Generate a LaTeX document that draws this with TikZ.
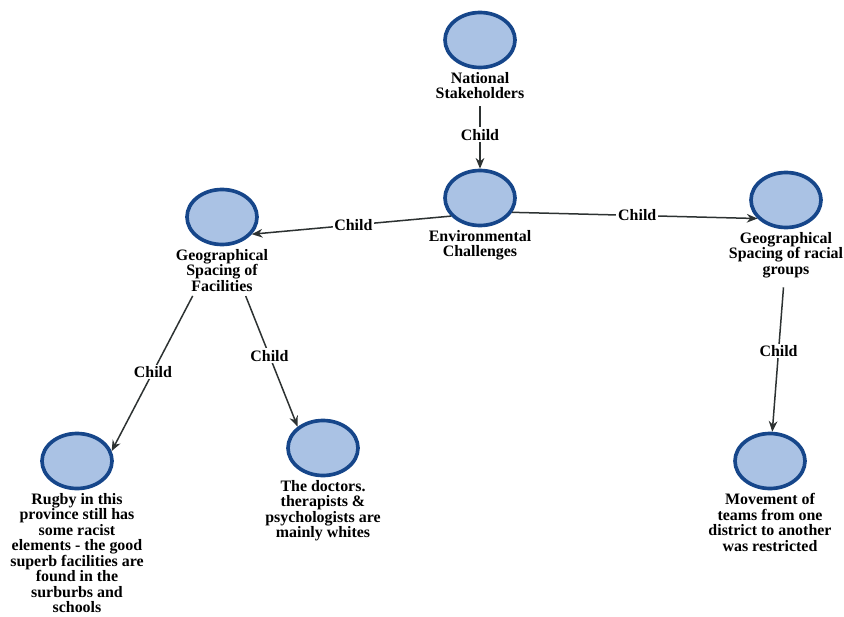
\documentclass[tikz,border=0pt]{standalone}
\usepackage{fontspec}
\setmainfont{Liberation Serif}
\usetikzlibrary{arrows.meta,positioning,shapes.geometric}
\definecolor{bubblefill}{RGB}{170,194,228}
\definecolor{bubbleline}{RGB}{22,70,138}
\definecolor{linkgray}{RGB}{45,50,50}
\tikzset{
  bubble/.style={ellipse,draw=bubbleline,line width=1.1mm,fill=bubblefill,minimum width=21mm,minimum height=16.5mm,inner sep=0pt},
  caption/.style={align=center,inner sep=1pt,font=\fontsize{13.6}{13.2}\selectfont\bfseries},
  link/.style={-{Stealth[length=3.2mm,width=2.6mm]},draw=linkgray,line width=0.45mm},
  tag/.style={fill=white,inner sep=1.5pt,font=\fontsize{13.6}{13.2}\selectfont\bfseries}
}

\begin{document}
\begin{tikzpicture}[x=0.3mm,y=-0.3mm]
\useasboundingbox (0,0) rectangle (844,617);
\foreach \nm/\x/\y/\lab in {nat/480/40/{National\\Stakeholders},env/480/198/{Environmental\\Challenges},fac/222/217/{Geographical\\Spacing of\\Facilities},racial/786/200/{Geographical\\Spacing of racial\\groups},rugby/77/461/{Rugby in this\\province still has\\some racist\\elements - the good\\superb facilities are\\found in the\\surburbs and\\schools},doctors/323/448/{The doctors.\\therapists \&\\psychologists are\\mainly whites},move/770/461/{Movement of\\teams from one\\district to another\\was restricted}} {
  \node[bubble] (\nm) at (\x,\y) {};
  \node[caption,below=0.5mm of \nm] (\nm-lab) {\lab};
}
\draw[link,shorten <=1.8mm] (nat-lab) -- node[tag,pos=0.5] {Child} (env);
\draw[link] (env.212) -- node[tag,pos=0.49] {Child} (fac.-30);
\draw[link] (env.-24) -- node[tag,pos=0.51] {Child} (racial.213);
\draw[link,shorten <=1mm] (fac-lab.-141) -- node[tag,pos=0.5] {Child} (rugby.16);
\draw[link,shorten <=1mm] (fac-lab.-45) -- node[tag,pos=0.47] {Child} (doctors.140);
\draw[link,shorten <=2.4mm] (racial-lab) -- node[tag,pos=0.47] {Child} (move);
\end{tikzpicture}
\end{document}
